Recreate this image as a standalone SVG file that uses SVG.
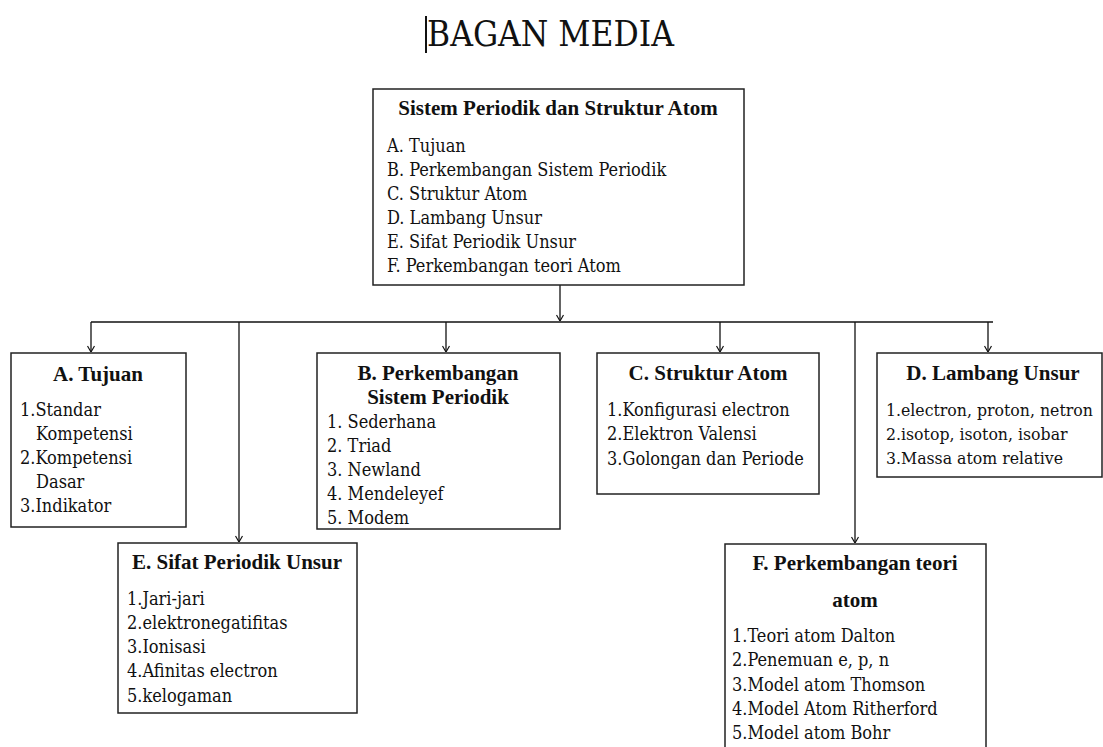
<svg xmlns="http://www.w3.org/2000/svg" width="1103" height="747" viewBox="0 0 1103 747">
<style>
text{font-family:'Liberation Serif','Times New Roman',serif;fill:#111}
.box{fill:#fff;stroke:#222;stroke-width:1.5}
.h{font-weight:bold;font-size:21px;text-anchor:middle}
.i{font-family:'DejaVu Serif Condensed','DejaVu Serif',serif;font-size:18px}
.d{font-size:17.5px}
.con{stroke:#111;stroke-width:1.3;fill:none}
</style>
<defs>
<marker id="arr" viewBox="0 0 8 8" refX="8" refY="4" markerWidth="8" markerHeight="8" markerUnits="userSpaceOnUse" orient="auto">
<path d="M2,0.5 L8,4 L2,7.5" fill="none" stroke="#111" stroke-width="1.2"/>
</marker>
</defs>
<rect width="1103" height="747" fill="#fff"/>
<g id="title">
<line x1="426" y1="16" x2="426" y2="53" stroke="#111" stroke-width="2"/>
<text x="427" y="46" font-size="35" style="font-family:'DejaVu Serif Condensed','DejaVu Serif',serif">BAGAN MEDIA</text>
</g>
<g id="connectors">
<line class="con" x1="560" y1="285" x2="560" y2="321" marker-end="url(#arr)"/>
<line class="con" x1="91" y1="322" x2="993" y2="322"/>
<line class="con" x1="91" y1="322" x2="91" y2="352" marker-end="url(#arr)"/>
<line class="con" x1="239" y1="322" x2="239" y2="542" marker-end="url(#arr)"/>
<line class="con" x1="446" y1="322" x2="446" y2="352" marker-end="url(#arr)"/>
<line class="con" x1="720" y1="322" x2="720" y2="352" marker-end="url(#arr)"/>
<line class="con" x1="855" y1="322" x2="855" y2="543" marker-end="url(#arr)"/>
<line class="con" x1="988" y1="322" x2="988" y2="352" marker-end="url(#arr)"/>
</g>
<g id="main">
<rect class="box" x="373" y="89" width="371" height="196"/>
<text class="h" x="558" y="115">Sistem Periodik dan Struktur Atom</text>
<text class="i" x="387" y="152">A. Tujuan</text>
<text class="i" x="387" y="176">B. Perkembangan Sistem Periodik</text>
<text class="i" x="387" y="200">C. Struktur Atom</text>
<text class="i" x="387" y="224">D. Lambang Unsur</text>
<text class="i" x="387" y="248">E. Sifat Periodik Unsur</text>
<text class="i" x="387" y="272">F. Perkembangan teori Atom</text>
</g>
<g id="nodeA">
<rect class="box" x="11" y="353" width="175" height="174"/>
<text class="h" x="98" y="381">A. Tujuan</text>
<text class="i" x="20" y="416">1.Standar</text>
<text class="i" x="36" y="440">Kompetensi</text>
<text class="i" x="20" y="464">2.Kompetensi</text>
<text class="i" x="36" y="488">Dasar</text>
<text class="i" x="20" y="512">3.Indikator</text>
</g>
<g id="nodeB">
<rect class="box" x="317" y="353" width="243" height="176"/>
<text class="h" x="438" y="380">B. Perkembangan</text>
<text class="h" x="438" y="404">Sistem Periodik</text>
<text class="i" x="327" y="428">1. Sederhana</text>
<text class="i" x="327" y="452">2. Triad</text>
<text class="i" x="327" y="476">3. Newland</text>
<text class="i" x="327" y="500">4. Mendeleyef</text>
<text class="i" x="327" y="524">5. Modem</text>
</g>
<g id="nodeC">
<rect class="box" x="597" y="353" width="222" height="141"/>
<text class="h" x="708" y="380">C. Struktur Atom</text>
<text class="i" x="607" y="416">1.Konfigurasi electron</text>
<text class="i" x="607" y="440">2.Elektron Valensi</text>
<text class="i" x="607" y="465">3.Golongan dan Periode</text>
</g>
<g id="nodeD">
<rect class="box" x="877" y="353" width="225" height="124"/>
<text class="h" x="993" y="380">D. Lambang Unsur</text>
<text class="i d" x="886" y="416">1.electron, proton, netron</text>
<text class="i d" x="886" y="440">2.isotop, isoton, isobar</text>
<text class="i d" x="886" y="464">3.Massa atom relative</text>
</g>
<g id="nodeE">
<rect class="box" x="118" y="543" width="239" height="170"/>
<text class="h" x="237" y="569">E. Sifat Periodik Unsur</text>
<text class="i" x="127" y="605">1.Jari-jari</text>
<text class="i" x="127" y="629">2.elektronegatifitas</text>
<text class="i" x="127" y="653">3.Ionisasi</text>
<text class="i" x="127" y="677">4.Afinitas electron</text>
<text class="i" x="127" y="702">5.kelogaman</text>
</g>
<g id="nodeF">
<rect class="box" x="725" y="544" width="261" height="220"/>
<text class="h" x="855" y="570">F. Perkembangan teori</text>
<text class="h" x="855" y="607">atom</text>
<text class="i" x="732" y="642">1.Teori atom Dalton</text>
<text class="i" x="732" y="666">2.Penemuan e, p, n</text>
<text class="i" x="732" y="691">3.Model atom Thomson</text>
<text class="i" x="732" y="715">4.Model Atom Ritherford</text>
<text class="i" x="732" y="739">5.Model atom Bohr</text>
</g>
</svg>
